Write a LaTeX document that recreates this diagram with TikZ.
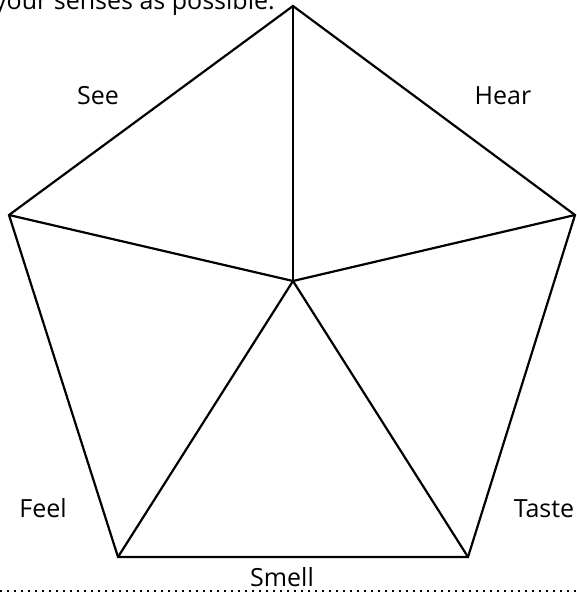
\documentclass[tikz,border=0pt]{standalone}
\usepackage{fontspec}
\setmainfont{Open Sans}
\begin{document}
\begin{tikzpicture}[x=1pt,y=-1pt,
  edge/.style={line width=2.2pt,line join=miter},
  lbl/.style={font=\fontsize{25}{30}\selectfont,inner sep=0pt}]
\useasboundingbox (0,0) rectangle (577,594);
\clip (0,0) rectangle (577,594);
\coordinate (T) at (293,6);
\coordinate (L) at (9,215);
\coordinate (R) at (575,215);
\coordinate (BL) at (118,557);
\coordinate (BR) at (468,557);
\coordinate (C) at (293,281);
\draw[edge] (T) -- (R) -- (BR) -- (BL) -- (L) -- cycle;
\draw[edge] (C) -- (T);
\draw[edge] (C) -- (L);
\draw[edge] (C) -- (R);
\draw[edge] (C) -- (BL);
\draw[edge] (C) -- (BR);
\node[lbl,anchor=base east] (top) at (275,10) {your senses as possible.};
\node[lbl,anchor=base] (see) at (98,104) {See};
\node[lbl,anchor=base] (hear) at (503,104) {Hear};
\node[lbl,anchor=base] (feel) at (43,517) {Feel};
\node[lbl,anchor=base] (taste) at (544,517) {Taste};
\node[lbl,anchor=base] (smell) at (282,586) {Smell};
\coordinate (d1) at (0,591);
\coordinate (d2) at (577,591);
\draw[line width=2.2pt,dash pattern=on 2.2pt off 4.8pt] (d1) -- (d2);
\end{tikzpicture}
\end{document}
